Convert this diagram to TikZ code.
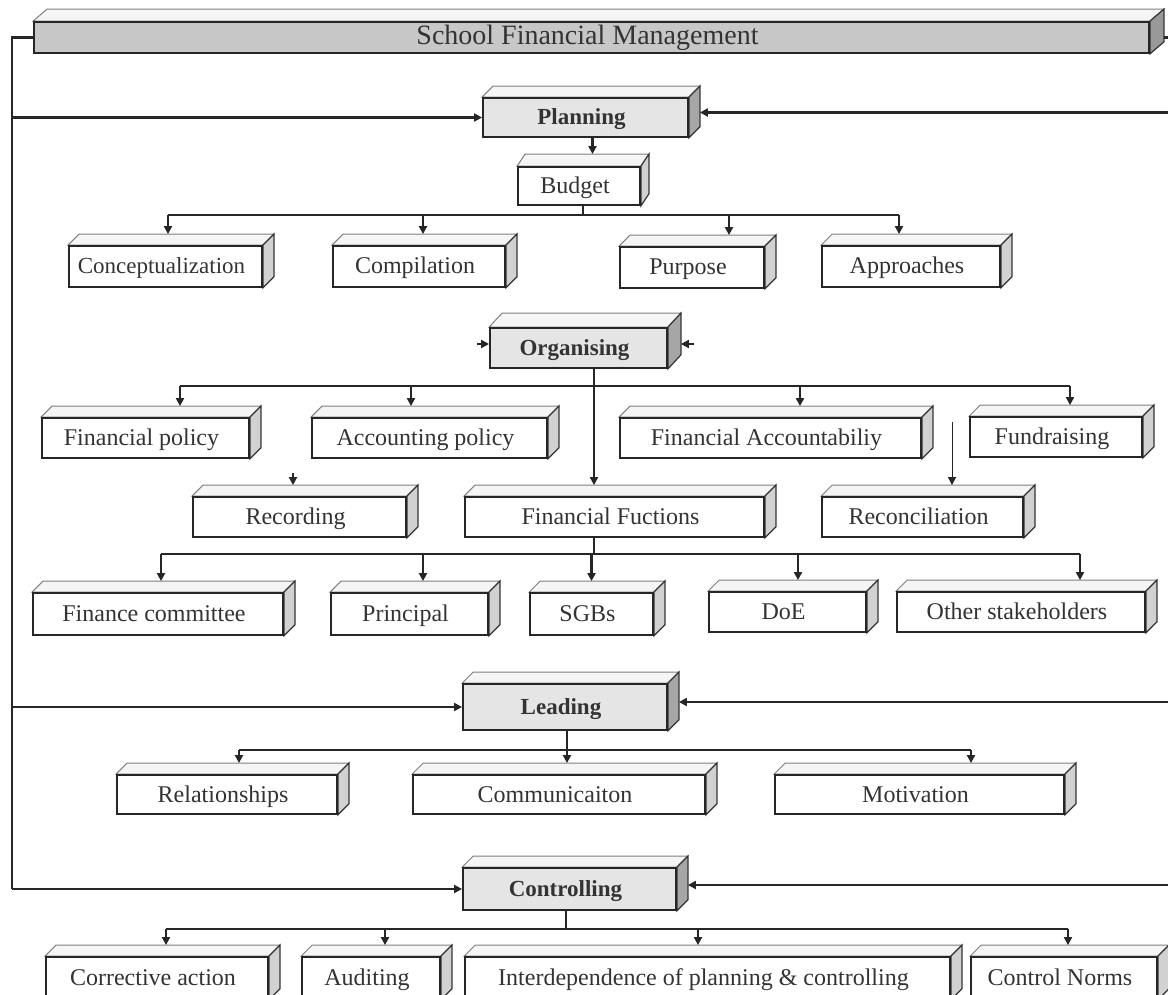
\documentclass[tikz,border=0pt]{standalone}
\usepackage{fontspec}
\setmainfont{Liberation Serif}
\usetikzlibrary{arrows.meta,backgrounds}
\tikzset{
  box/.style={draw=black!85, line width=1.8pt, fill=white, inner sep=0pt,
    font=\fontsize{24}{24}\selectfont, text=black!80,
    text height=18pt, text depth=3pt,
    execute at begin node={\hspace*{-8pt}}},
  hbox/.style={box, fill=black!10, font=\bfseries\fontsize{23}{23}\selectfont},
  tbox/.style={box, fill=black!22, font=\fontsize{28}{28}\selectfont},
  conn/.style={line width=2.4pt, draw=black!85},
  arr/.style={conn, -{Triangle[length=8pt,width=8pt]}},
  topface/.style={fill=black!4, draw=black!50, line width=1pt},
  sideface/.style={fill=black!22, draw=black!80, line width=1.2pt},
}
\newcommand\dropto[3]{%
  \path ([xshift=#3pt]#2-top) coordinate (#2-a);
  \draw[arr] (#1 -| #2-a) -- (#2-a);}
\begin{document}
\begin{tikzpicture}[x=1pt,y=-1pt]
\useasboundingbox (0,0) rectangle (1168,995);

% ---------- boxes (front faces) ----------
\node[tbox, minimum width=1115pt, minimum height=31pt] (title) at (591.5,37.5) {School Financial Management};
\node[hbox, minimum width=205pt, minimum height=39pt] (planning) at (585.5,117.5) {Planning};
\node[box, minimum width=122pt, minimum height=38pt] (budget) at (579,186) {Budget};
\node[box, minimum width=193pt, minimum height=41pt, font=\fontsize{23}{23}\selectfont] (concept) at (165.5,266.5) {Conceptualization};
\node[box, minimum width=172pt, minimum height=41pt] (compil) at (419,266.5) {Compilation};
\node[box, minimum width=144pt, minimum height=41pt] (purpose) at (692,267.5) {Purpose};
\node[box, minimum width=178pt, minimum height=41pt] (approach) at (911,266.5) {Approaches};
\node[hbox, minimum width=177pt, minimum height=40pt] (organising) at (578.5,348) {Organising};
\node[box, minimum width=207pt, minimum height=40pt] (finpol) at (145.5,438) {Financial policy};
\node[box, minimum width=235pt, minimum height=40pt] (accpol) at (429.5,438) {Accounting policy};
\node[box, minimum width=301pt, minimum height=40pt] (finacc) at (770.5,438) {Financial Accountabiliy};
\node[box, minimum width=172pt, minimum height=40pt] (fundr) at (1056,437) {Fundraising};
\node[box, minimum width=213pt, minimum height=40pt] (recording) at (299.5,517) {Recording};
\node[box, minimum width=299pt, minimum height=40pt] (finfunc) at (614.5,517) {Financial Fuctions};
\node[box, minimum width=201pt, minimum height=40pt] (recon) at (922.5,517) {Reconciliation};
\node[box, minimum width=250pt, minimum height=42pt] (fincom) at (158,614) {Finance committee};
\node[box, minimum width=157pt, minimum height=42pt] (principal) at (409.5,614) {Principal};
\node[box, minimum width=123pt, minimum height=42pt] (sgbs) at (591.5,614) {SGBs};
\node[box, minimum width=157pt, minimum height=40pt] (doe) at (787.5,612) {DoE};
\node[box, minimum width=248pt, minimum height=40pt] (others) at (1021,612) {Other stakeholders};
\node[hbox, minimum width=204pt, minimum height=46pt] (leading) at (565,707) {Leading};
\node[box, minimum width=220pt, minimum height=39pt] (relat) at (227,794.5) {Relationships};
\node[box, minimum width=292pt, minimum height=39pt] (commun) at (559,794.5) {Communicaiton};
\node[box, minimum width=289pt, minimum height=39pt] (motiv) at (919.5,794.5) {Motivation};
\node[hbox, minimum width=213pt, minimum height=42pt] (controlling) at (569.5,889) {Controlling};
\node[box, minimum width=222pt, minimum height=42pt] (correct) at (157,978) {Corrective action};
\node[box, minimum width=138pt, minimum height=42pt] (audit) at (371,978) {Auditing};
\node[box, minimum width=485pt, minimum height=42pt] (interdep) at (707.5,978) {Interdependence of planning \& controlling};
\node[box, minimum width=186pt, minimum height=42pt] (cnorms) at (1064,978) {Control Norms};

% ---------- 3D top and side faces ----------
\begin{scope}[on background layer]
\foreach \n/\dx/\dy/\sc in {title/14/12/40, planning/11/11/35, budget/8/12/18,
  concept/11/11/18, compil/11/11/18, purpose/11/11/18, approach/11/11/18,
  organising/13/14/35, finpol/11/11/18, accpol/11/11/18, finacc/11/11/18,
  fundr/11/11/18, recording/11/11/18, finfunc/11/11/18, recon/11/11/18,
  fincom/11/11/18, principal/11/11/18, sgbs/11/11/18, doe/11/11/18,
  others/11/11/18, leading/11/11/35, relat/11/11/18, commun/11/11/18,
  motiv/11/11/18, controlling/11/11/35, correct/11/11/18, audit/11/11/18,
  interdep/11/11/18, cnorms/11/11/18}{
  \draw[topface] (\n.north west) -- ++(\dx,-\dy) -- ([shift={(\dx,-\dy)}]\n.north east) -- (\n.north east) -- cycle;
  \draw[sideface, fill=black!\sc] (\n.north east) -- ++(\dx,-\dy) -- ([shift={(\dx,-\dy)}]\n.south east) -- (\n.south east) -- cycle;
  \path ([yshift=\dy pt]\n.north) coordinate (\n-top);
}
\end{scope}

% ---------- left rail ----------
\coordinate (railtop) at (12,37.5);
\coordinate (railbot) at (12,889);
\draw[conn] (title.west) -- (railtop) -- (railbot);
\draw[arr] (railbot) -- (controlling.west);
\draw[arr] (railtop |- planning.west) -- (planning.west);
\draw[arr] (railtop |- leading.west) -- (leading.west);

% ---------- right side feeds ----------
\coordinate (redge) at (1168,0);
\draw[conn] ([xshift=14pt]title.east) -- ([xshift=14pt]title.east -| redge);
\path ([shift={(11,-5)}]planning.east) coordinate (pR);
\draw[arr] (pR -| redge) -- (pR);
\path ([shift={(11,-5)}]leading.east) coordinate (lR);
\draw[arr] (lR -| redge) -- (lR);
\path ([shift={(11,-4)}]controlling.east) coordinate (cR);
\draw[arr] (cR -| redge) -- (cR);

% ---------- organising stubs ----------
\draw[arr] ([shift={(-12,-4)}]organising.west) -- ([shift={(0,-4)}]organising.west);
\draw[arr] ([shift={(26,-4)}]organising.east) -- ([shift={(13,-4)}]organising.east);

% ---------- planning / budget ----------
\draw[arr] ([xshift=7pt]planning.south) -- ([xshift=7pt]planning.south |- budget-top);
\path ([xshift=4pt]budget.south) ++(0,9) coordinate (bbus);
\draw[conn] ([xshift=4pt]budget.south) -- (bbus);
\dropto{bbus}{concept}{2.5}
\dropto{bbus}{compil}{4}
\dropto{bbus}{purpose}{37}
\dropto{bbus}{approach}{-12}
\draw[conn] (bbus -| concept-a) -- (bbus -| approach-a);

% ---------- organising ----------
\path ([xshift=15.5pt]organising.south) ++(0,17) coordinate (obus);
\draw[conn] ([xshift=15.5pt]organising.south) -- (obus);
\dropto{obus}{finfunc}{-20.5}
\dropto{obus}{finpol}{34.5}
\dropto{obus}{accpol}{-18.5}
\dropto{obus}{finacc}{29.5}
\dropto{obus}{fundr}{14}
\draw[conn] (obus -| finpol-a) -- (obus -| fundr-a);
\path ([xshift=-6.5pt]recording-top) coordinate (recording-a);
\draw[arr] ([yshift=12pt]recording-a) -- (recording-a);
\path ([xshift=29.5pt]recon-top) coordinate (recon-a);
\draw[arr, line width=0.9pt] ([yshift=63pt]recon-a) -- (recon-a);

% ---------- financial functions ----------
\path (finfunc.south -| obus) ++(0,16) coordinate (fbus);
\draw[conn] (finfunc.south -| obus) -- (fbus);
\dropto{fbus}{fincom}{3}
\dropto{fbus}{principal}{13.5}
\dropto{fbus}{sgbs}{0}
\dropto{fbus}{doe}{10.5}
\dropto{fbus}{others}{59}
\draw[conn] (fbus -| fincom-a) -- (fbus -| others-a);

% ---------- leading ----------
\path ([xshift=2pt]leading.south) ++(0,19) coordinate (lbus);
\draw[conn] ([xshift=2pt]leading.south) -- (lbus);
\dropto{lbus}{relat}{12}
\dropto{lbus}{commun}{8}
\dropto{lbus}{motiv}{51.5}
\draw[conn] (lbus -| relat-a) -- (lbus -| motiv-a);

% ---------- controlling ----------
\path ([xshift=-3.5pt]controlling.south) ++(0,18) coordinate (cbus);
\draw[conn] ([xshift=-3.5pt]controlling.south) -- (cbus);
\dropto{cbus}{correct}{9}
\dropto{cbus}{audit}{14}
\dropto{cbus}{interdep}{-9.5}
\dropto{cbus}{cnorms}{4}
\draw[conn] (cbus -| correct-a) -- (cbus -| cnorms-a);
\end{tikzpicture}
\end{document}
